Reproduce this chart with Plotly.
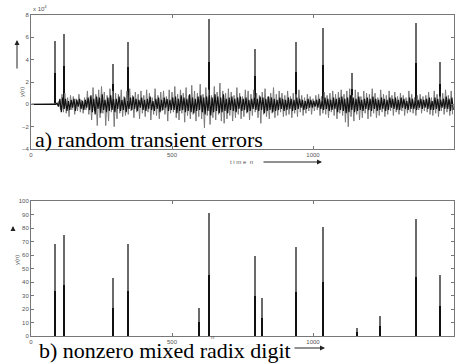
import plotly.graph_objects as go

# ---------------- data ----------------
# top panel: error signal (x 10^4), sampled every 5 n
noise_gray = [
    0,0,0,0,0,0,0,0,0,0,0,0,0,0,0,0,0,0,0.05,-0.1,
    0.3,-0.5,0.9,-0.7,1.0,-0.8,0.6,-1.1,0.8,-0.5,0.7,-0.9,0.5,-0.6,0.9,-0.7,0.4,-0.8,0.6,-0.5,
    1.2,-0.9,0.7,-1.4,1.5,-0.6,0.9,-1.9,1.3,-1.2,1.6,-0.8,1.1,-1.9,0.8,-1.5,1.4,-0.7,1.2,-2.0,
    1.0,-1.3,0.9,-0.8,1.3,-1.1,0.7,-1.0,1.2,-0.9,1.4,-0.6,0.8,-1.2,1.1,-0.7,0.9,-1.3,1.2,-0.8,
    0.8,-1.1,1.3,-0.7,1.0,-1.4,0.6,-0.9,1.4,-1.0,0.8,-1.3,1.1,-0.6,1.2,-0.9,0.7,-1.5,1.3,-0.8,
    1.1,-0.7,1.6,-1.2,0.9,-1.4,1.3,-0.8,1.0,-1.6,1.5,-1.0,0.8,-1.3,1.7,-0.9,1.2,-1.5,1.0,-1.1,
    1.8,-1.3,0.9,-2.1,1.5,-1.0,1.3,-1.8,0.8,-1.2,1.6,-1.4,1.1,-0.9,1.9,-1.5,1.2,-1.7,1.0,-1.3,
    1.4,-1.0,1.1,-1.5,0.8,-1.2,1.5,-0.9,1.0,-1.3,0.7,-1.1,1.3,-0.8,1.2,-1.4,0.9,-1.0,1.3,-0.7,
    1.0,-1.2,0.8,-1.7,1.1,-0.9,1.4,-1.1,0.7,-1.3,1.0,-0.8,1.5,-1.2,0.9,-1.0,1.2,-0.7,1.0,-1.1,
    0.8,-1.0,1.2,-0.9,0.7,-1.2,1.0,-0.8,0.9,-1.1,1.3,-0.7,0.8,-1.0,0.6,-0.8,0.9,-0.6,0.7,-0.9,
    0.5,-0.6,0.8,-0.5,0.9,-1.0,0.7,-0.8,1.1,-0.9,0.8,-1.2,1.0,-0.7,1.2,-1.0,0.9,-1.3,1.1,-0.8,
    1.3,-1.0,0.9,-1.6,1.2,-2.0,1.4,-1.1,0.8,-1.5,1.3,-0.9,1.1,-1.4,0.7,-1.2,1.2,-0.8,1.0,-1.3,
    0.9,-1.1,1.4,-0.8,1.0,-1.2,0.6,-1.0,1.3,-0.7,0.9,-1.1,0.8,-0.9,1.2,-0.6,0.8,-1.0,1.1,-0.7,
    0.7,-0.9,1.0,-0.6,0.8,-1.0,0.6,-0.8,1.2,-0.7,0.9,-0.8,0.6,-1.0,0.8,-0.5,0.9,-0.8,0.7,-0.6,
    0.8,-0.7,1.1,-0.9,0.6,-1.0,1.2,-0.8,0.9,-1.1,0.7,-0.6,1.0,-0.9,1.3,-0.7,0.8,-1.0,1.2,-0.9,
]
noise_black = [
    0,0,0,0,0,0,0,0,0,0,0,0,0,0,0,0,0,0,0.1,-0.2,
    0.5,-0.7,0.6,-0.4,0.5,-0.6,0.3,-0.5,0.4,-0.3,0.5,-0.6,0.4,-0.2,0.5,-0.4,0.3,-0.5,0.4,-0.3,
    0.6,-0.5,0.8,-0.7,0.5,-0.9,0.7,-0.4,0.6,-0.8,0.9,-0.5,0.4,-0.7,0.6,-0.6,0.8,-0.5,0.5,-0.7,
    0.5,-0.4,0.7,-0.6,0.4,-0.5,0.6,-0.7,0.3,-0.4,0.6,-0.5,0.7,-0.4,0.5,-0.6,0.4,-0.3,0.6,-0.5,
    0.4,-0.6,0.5,-0.4,0.7,-0.5,0.3,-0.6,0.5,-0.4,0.6,-0.7,0.4,-0.5,0.6,-0.3,0.5,-0.6,0.4,-0.5,
    0.6,-0.5,0.7,-0.8,0.5,-0.6,0.8,-0.5,0.6,-0.7,0.5,-0.6,0.9,-0.7,0.6,-0.8,0.5,-0.6,0.7,-0.5,
    0.8,-0.7,0.6,-0.9,0.7,-0.6,0.8,-1.0,0.6,-0.7,0.9,-0.6,0.7,-0.8,0.6,-0.7,0.9,-0.6,0.5,-0.8,
    0.6,-0.5,0.7,-0.6,0.5,-0.7,0.6,-0.4,0.7,-0.6,0.5,-0.5,0.6,-0.7,0.4,-0.6,0.5,-0.4,0.6,-0.5,
    0.5,-0.6,0.7,-0.5,0.6,-0.8,0.5,-0.6,0.7,-0.5,0.6,-0.7,0.5,-0.6,0.4,-0.5,0.6,-0.4,0.5,-0.6,
    0.4,-0.5,0.6,-0.4,0.5,-0.6,0.4,-0.5,0.6,-0.4,0.5,-0.3,0.4,-0.5,0.3,-0.4,0.5,-0.3,0.4,-0.3,
    0.3,-0.2,0.4,-0.3,0.5,-0.4,0.3,-0.5,0.6,-0.4,0.5,-0.6,0.4,-0.5,0.6,-0.4,0.5,-0.7,0.6,-0.5,
    0.7,-0.6,0.5,-0.8,0.6,-0.7,0.8,-0.5,0.6,-0.7,0.5,-0.6,0.7,-0.5,0.4,-0.6,0.5,-0.4,0.6,-0.5,
    0.5,-0.6,0.7,-0.4,0.5,-0.6,0.4,-0.5,0.6,-0.4,0.5,-0.6,0.4,-0.5,0.6,-0.3,0.5,-0.4,0.6,-0.5,
    0.4,-0.5,0.6,-0.3,0.5,-0.4,0.3,-0.5,0.6,-0.4,0.5,-0.4,0.3,-0.5,0.4,-0.3,0.5,-0.4,0.4,-0.3,
    0.5,-0.4,0.6,-0.5,0.3,-0.5,0.6,-0.4,0.5,-0.6,0.4,-0.3,0.5,-0.4,0.7,-0.4,0.5,-0.6,0.6,-0.5,
]
n_gray = [5 * k for k in range(len(noise_gray))]
n_black = [5 * k + 2.5 for k in range(len(noise_black))]

# top panel transient spikes (x 10^4): full height and lower (dark) part
spike_n    = [86, 118, 292, 344, 630, 796, 940, 1037, 1137, 1364, 1450]
spike_full = [5.7, 6.3, 3.6, 5.6, 7.6, 5.0, 5.6, 6.8, 2.8, 7.3, 3.8]
spike_dark = [2.85, 3.4, 1.8, 3.3, 3.8, 2.5, 2.9, 3.5, 1.4, 3.7, 1.8]

# bottom panel: nonzero mixed radix digit
digit_n    = [86, 118, 292, 344, 597, 630, 796, 820, 940, 1037, 1157, 1238, 1364, 1450]
digit_full = [68, 75, 43, 68, 21, 91, 59, 28, 66, 81, 6, 15, 87, 45]
digit_dark = [33, 37.6, 21, 33, 10.4, 45.5, 30, 13.4, 32.7, 40, 3, 7.5, 43.6, 22]

top_yticks = [-4, -2, 0, 2, 4, 6, 8]
bot_yticks = [0, 10, 20, 30, 40, 50, 60, 70, 80, 90, 100]
x_ticks = [0, 500, 1000, 1500]

# ---------------- figure ----------------
W, H = 456, 364
def px(x): return x / W
def py(y): return 1 - y / H

GRAY = "#7a7a7a"
DARK = "#111111"

fig = go.Figure()
fig.add_trace(go.Scatter(x=n_gray, y=noise_gray, mode="lines",
                         line=dict(color=GRAY, width=1), xaxis="x", yaxis="y"))
fig.add_trace(go.Scatter(x=n_black, y=noise_black, mode="lines",
                         line=dict(color=DARK, width=1.2), xaxis="x", yaxis="y"))
fig.add_trace(go.Bar(x=spike_n, y=spike_full, width=3.5, marker=dict(color="#6a6a6a", line_width=0),
                     xaxis="x", yaxis="y"))
fig.add_trace(go.Bar(x=spike_n, y=spike_dark, width=3.5, marker=dict(color=DARK, line_width=0),
                     xaxis="x", yaxis="y"))
fig.add_trace(go.Bar(x=digit_n, y=digit_full, width=3.5, marker=dict(color="#6a6a6a", line_width=0),
                     xaxis="x2", yaxis="y2"))
fig.add_trace(go.Bar(x=digit_n, y=digit_dark, width=3.5, marker=dict(color=DARK, line_width=0),
                     xaxis="x2", yaxis="y2"))

axis_common = dict(showline=True, linecolor="#777", linewidth=1, mirror="ticks",
                   ticks="inside", ticklen=3, tickcolor="#777", showgrid=False,
                   zeroline=False, automargin=False,
                   tickfont=dict(size=6, color="#555",
                                 family="Liberation Sans, Arial, sans-serif"))

fig.update_layout(
    width=W, height=H, margin=dict(l=0, r=0, t=0, b=0),
    paper_bgcolor="white", plot_bgcolor="white", showlegend=False,
    barmode="overlay", bargap=0,
    xaxis=dict(domain=[px(31), px(454)], range=[0, 1500], tickvals=x_ticks,
               anchor="y", **axis_common),
    yaxis=dict(domain=[py(149), py(15)], range=[-4, 8], tickvals=top_yticks,
               anchor="x", **axis_common),
    xaxis2=dict(domain=[px(31), px(454)], range=[0, 1500], tickvals=x_ticks,
                anchor="y2", **axis_common),
    yaxis2=dict(domain=[py(336), py(201)], range=[0, 100], tickvals=bot_yticks,
                anchor="x2", **axis_common),
)

small = dict(size=6, color="#555", family="Liberation Sans, Arial, sans-serif")
serif = dict(size=22, color="black", family="Liberation Serif, Times New Roman, serif")
P = dict(xref="paper", yref="paper", showarrow=False)
ann = [
    dict(x=px(31), y=py(8), text="x 10<sup>4</sup>", xanchor="left",
         yanchor="middle", font=small, **P),
    dict(x=px(17), y=py(85), text="y(n)", textangle=-90, font=small, **P),
    dict(x=px(12), y=py(267), text="y(n)", textangle=-90, font=small, **P),
    dict(x=px(241), y=py(162), text="t i m e  n", font=small, **P),
    dict(x=px(212), y=py(342), text="n", font=small, **P),
    dict(x=px(33), y=py(139), text="a) random transient errors",
         xanchor="left", yanchor="middle", font=serif, **P),
    dict(x=px(37), y=py(350), text="b) nonzero mixed radix digit",
         xanchor="left", yanchor="middle", font=serif, **P),
]
# arrows
arrow = dict(showarrow=True, arrowhead=2, arrowsize=1, arrowwidth=1, arrowcolor="#222",
             text="", xref="paper", yref="paper", axref="pixel", ayref="pixel")
ann.append(dict(x=px(17), y=py(40), ax=0, ay=30, **arrow))
ann.append(dict(x=px(13), y=py(226), ax=0, ay=6, **arrow))
ann.append(dict(x=px(322), y=py(162), ax=-60, ay=0, **arrow))
ann.append(dict(x=px(325), y=py(348), ax=-32, ay=0, **arrow))
fig.update_layout(annotations=ann)

fig.write_html("out.html", config={"displayModeBar": False},
               post_script="document.body.style.margin='0';document.body.style.overflow='hidden';")
